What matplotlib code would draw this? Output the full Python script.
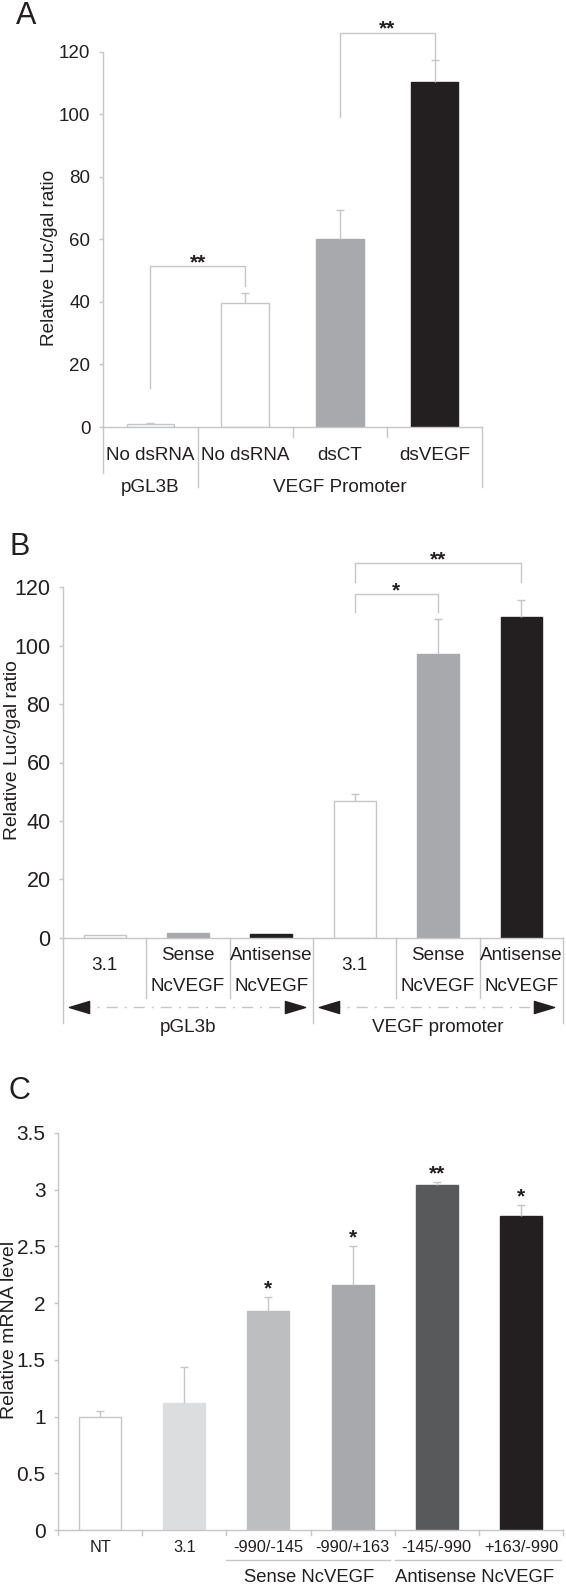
import numpy as np
import matplotlib.pyplot as plt
from matplotlib.path import Path

plt.rcParams['font.family'] = ['Liberation Sans', 'DejaVu Sans']

TXT = '#231f20'
LINE = '#c4c6c8'

# Panel A data
a_labels = ['No dsRNA', 'No dsRNA', 'dsCT', 'dsVEGF']
a_groups = ['pGL3B', 'VEGF Promoter']
a_values = [1.0, 39.5, 60.2, 110.4]
a_err = [0.3, 3.2, 9.1, 6.9]
a_colors = ['white', 'white', '#a7a9ac', '#231f20']
a_yticks = [0, 20, 40, 60, 80, 100, 120]

# Panel B data
b_line1 = ['', 'Sense', 'Antisense', '', 'Sense', 'Antisense']
b_line2 = ['', 'NcVEGF', 'NcVEGF', '', 'NcVEGF', 'NcVEGF']
b_single = ['3.1', '', '', '3.1', '', '']
b_groups = ['pGL3b', 'VEGF promoter']
b_values = [1.0, 1.6, 1.4, 46.8, 97.1, 109.7]
b_err = [0.0, 0.0, 0.0, 2.3, 12.0, 5.8]
b_colors = ['white', '#a7a9ac', '#231f20', 'white', '#a7a9ac', '#231f20']
b_yticks = [0, 20, 40, 60, 80, 100, 120]

# Panel C data
c_labels = ['NT', '3.1', '-990/-145', '-990/+163', '-145/-990', '+163/-990']
c_groups = ['Sense NcVEGF', 'Antisense NcVEGF']
c_values = [1.0, 1.117, 1.93, 2.16, 3.045, 2.77]
c_err = [0.05, 0.32, 0.12, 0.34, 0.025, 0.095]
c_stars = ['', '', '*', '*', '**', '*']
c_colors = ['white', '#dcddde', '#bcbec0', '#a7a9ac', '#58595b', '#231f20']
c_yticks = [0, 0.5, 1, 1.5, 2, 2.5, 3, 3.5]

W, H = 566, 1584
fig = plt.figure(figsize=(W / 100, H / 100), dpi=100)


def new_axes(x0, x1, ytop, ybot):
    # pixel box of the plotting area -> figure fractions
    return fig.add_axes([x0 / W, 1 - ybot / H, (x1 - x0) / W, (ybot - ytop) / H])


def below(ax, p):
    # p pixels under the x axis, in axes fraction
    h = ax.get_position().height * H
    return -p / h


def draw_bars(ax, values, err, colors, ticks, tsize):
    x = np.arange(len(values))
    values = np.array(values)
    err = np.array(err)
    edges = [LINE if c == 'white' else c for c in colors]
    ax.bar(x, values, width=0.5, color=colors, edgecolor=edges, linewidth=1, zorder=2)
    # upper error bars only
    has = err > 0
    ax.vlines(x[has], values[has], values[has] + err[has], color=LINE, lw=1, zorder=3)
    ax.plot(x[has], values[has] + err[has], ls='none', marker='_', ms=6, mew=1, color=LINE, zorder=3)
    ax.set_xlim(-0.5, len(values) - 0.5)
    ax.set_ylim(ticks[0], ticks[-1])
    ax.set_yticks(ticks)
    ax.set_yticklabels([f'{t:g}' for t in ticks])
    ax.set_xticks([])
    for s in ['top', 'right']:
        ax.spines[s].set_visible(False)
    for s in ['left', 'bottom']:
        ax.spines[s].set_color(LINE)
        ax.spines[s].set_linewidth(1)
    ax.tick_params(axis='y', length=3, width=1, color=LINE, pad=6, labelsize=tsize, labelcolor=TXT)
    return x


def vline(ax, x, p):
    ax.plot([x, x], [0, below(ax, p)], transform=ax.get_xaxis_transform(),
            color=LINE, lw=1, clip_on=False)


def bracket(ax, x0, x1, top, left_end, right_end, stars):
    ax.plot([x0, x0, x1, x1], [left_end, top, top, right_end], color=LINE, lw=1, clip_on=False)
    ax.annotate(stars, ((x0 + x1) / 2, top), xytext=(0, -1.5), textcoords='offset points',
                ha='center', va='baseline', fontsize=15, fontweight='bold', color=TXT,
                annotation_clip=False)


# ---------------- A ----------------
axA = new_axes(103, 482, 51.5, 427)
draw_bars(axA, a_values, a_err, a_colors, a_yticks, 13.5)
trA = axA.get_xaxis_transform()
for i, lab in enumerate(a_labels):
    axA.text(i, below(axA, 28), lab, transform=trA, ha='center', va='center', fontsize=13.6, color=TXT)
axA.text(0, below(axA, 60), a_groups[0], transform=trA, ha='center', va='center', fontsize=13.6, color=TXT)
axA.text(2, below(axA, 60), a_groups[1], transform=trA, ha='center', va='center', fontsize=13.6, color=TXT)
vline(axA, -0.5, 46)
for xd in [0.5, 3.5]:
    vline(axA, xd, 60)
for xd in [1.5, 2.5]:
    vline(axA, xd, 10)
bracket(axA, 0, 1, 51.4, 12.6, 45.0, '**')
bracket(axA, 2, 3, 126.0, 99.0, 117.3, '**')

# ---------------- B ----------------
axB = new_axes(63, 563, 587, 938)
draw_bars(axB, b_values, b_err, b_colors, b_yticks, 15.5)
trB = axB.get_xaxis_transform()
for i in range(len(b_values)):
    if b_single[i]:
        axB.text(i, below(axB, 28), b_single[i], transform=trB, ha='center', va='center', fontsize=13.6, color=TXT)
    else:
        axB.text(i, below(axB, 18), b_line1[i], transform=trB, ha='center', va='center', fontsize=13.6, color=TXT)
        axB.text(i, below(axB, 49), b_line2[i], transform=trB, ha='center', va='center', fontsize=13.6, color=TXT)
for xd in [0.5, 1.5, 3.5, 4.5]:
    vline(axB, xd, 60)
for xd in [-0.5, 2.5, 5.5]:
    vline(axB, xd, 85)

tri = Path([(-1, 0), (1, 0.6), (1, -0.6), (-1, 0)], [Path.MOVETO, Path.LINETO, Path.LINETO, Path.CLOSEPOLY])
tri_r = Path([(1, 0), (-1, 0.6), (-1, -0.6), (1, 0)], [Path.MOVETO, Path.LINETO, Path.LINETO, Path.CLOSEPOLY])
ya = below(axB, 69)
for xl, xr in [(-0.31, 2.28), (2.69, 5.27)]:
    axB.plot([xl, xr], [ya, ya], transform=trB, color=LINE, lw=1, ls=(0, (8, 5, 1.5, 5)), clip_on=False)
    axB.plot([xl], [ya], transform=trB, marker=tri, ms=14.5, color=TXT, clip_on=False, ls='none')
    axB.plot([xr], [ya], transform=trB, marker=tri_r, ms=14.5, color=TXT, clip_on=False, ls='none')
axB.text(1, below(axB, 89), b_groups[0], transform=trB, ha='center', va='center', fontsize=13.6, color=TXT)
axB.text(4, below(axB, 89), b_groups[1], transform=trB, ha='center', va='center', fontsize=13.6, color=TXT)
bracket(axB, 3, 4, 117.6, 111.5, 111.5, '*')
bracket(axB, 3, 5, 128.2, 121.7, 121.7, '**')

# ---------------- C ----------------
axC = new_axes(58, 563, 1133, 1530)
xc = draw_bars(axC, c_values, c_err, c_colors, c_yticks, 15)
trC = axC.get_xaxis_transform()
for i, lab in enumerate(c_labels):
    axC.text(i, below(axC, 17), lab, transform=trC, ha='center', va='center', fontsize=11.8, color=TXT)
for xd in np.arange(-0.5, 6, 1):
    vline(axC, xd, 5)
for i, s in enumerate(c_stars):
    if s:
        axC.annotate(s, (xc[i], c_values[i] + c_err[i]), xytext=(0, 2), textcoords='offset points',
                     ha='center', va='baseline', fontsize=15, fontweight='bold', color=TXT)
yg = below(axC, 30)
axC.plot([1.5, 3.45], [yg, yg], transform=trC, color=LINE, lw=1, clip_on=False)
axC.plot([3.5, 5.48], [yg, yg], transform=trC, color=LINE, lw=1, clip_on=False)
axC.text(2.48, below(axC, 47), c_groups[0], transform=trC, ha='center', va='center', fontsize=13.3, color=TXT)
axC.text(4.45, below(axC, 47), c_groups[1], transform=trC, ha='center', va='center', fontsize=13.3, color=TXT)

# panel letters and y labels
for letter, (lx, ly) in zip(['A', 'B', 'C'], [(26, 15.5), (19.5, 547), (19.5, 1091)]):
    fig.text(lx / W, 1 - ly / H, letter, fontsize=22, ha='center', va='center', color=TXT)
fig.text(50 / W, 1 - 258 / H, 'Relative Luc/gal ratio', rotation=90, fontsize=13.7,
         ha='center', va='center', color=TXT)
fig.text(13 / W, 1 - 750 / H, 'Relative Luc/gal ratio', rotation=90, fontsize=13.9,
         ha='center', va='center', color=TXT)
fig.text(10 / W, 1 - 1330 / H, 'Relative mRNA level', rotation=90, fontsize=14,
         ha='center', va='center', color=TXT)

fig.savefig('out.png', dpi=100)
